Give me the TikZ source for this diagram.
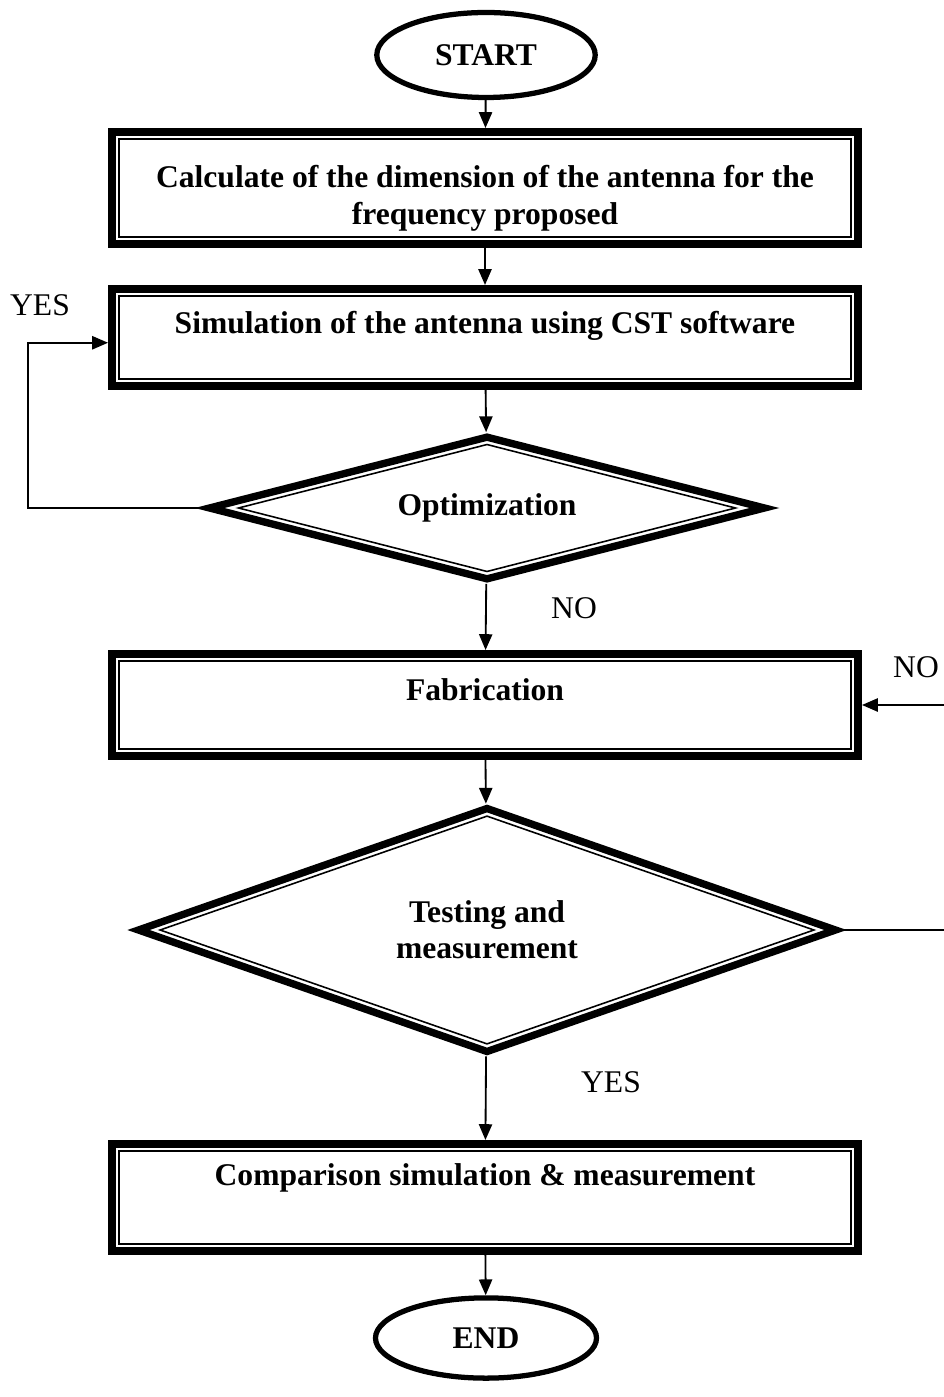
\documentclass[tikz,border=0pt]{standalone}
\usepackage{fontspec}
\setmainfont{Liberation Serif}
\usepackage{tikz}
\usetikzlibrary{arrows.meta}
\usetikzlibrary{shapes.geometric}
\tikzstyle{termnode}=[black, draw=black, line width=2pt, shape=ellipse, fill=white, inner sep=0pt, font=\fontsize{12}{13.8}\selectfont\bfseries]
\tikzstyle{procnode}=[black, draw=black, line width=3pt, shape=rectangle, fill=white, minimum width=283.5pt, align=center, font=\fontsize{12}{13.8}\selectfont\bfseries, path picture={\draw[line width=0.6pt] ([shift={(2.75pt,-2.75pt)}]path picture bounding box.north west) rectangle ([shift={(-2.75pt,2.75pt)}]path picture bounding box.south east);}]
\tikzstyle{decnode}=[black, draw=black, line width=2.8pt, shape=diamond, fill=white, inner sep=0pt, align=center, font=\fontsize{12}{13.8}\selectfont\bfseries]
\tikzstyle{labelnode}=[shape=rectangle, inner sep=0pt, font=\fontsize{12}{13.8}\selectfont]
\tikzstyle{flowarrow}=[-{Triangle[length=6pt, width=5pt]}, line width=0.7pt, color=black]
\tikzset{innerdiamond/.style 2 args={path picture={\draw[line width=0.6pt] ([yshift=-#2]path picture bounding box.north) -- ([xshift=-#1]path picture bounding box.east) -- ([yshift=#2]path picture bounding box.south) -- ([xshift=#1]path picture bounding box.west) -- cycle;}}}

\begin{document}
\begin{tikzpicture}[x=0.38pt, y=-0.38pt]
\useasboundingbox (0,0) rectangle (943,1397);

\node [termnode, minimum width=83pt, minimum height=32.3pt] (start) at (486,55) {START};
\node [procnode, minimum height=42.6pt, text height=30pt] (calc) at (485,188) {Calculate of the dimension of the antenna for the\\frequency proposed};
\node [procnode, minimum height=36.9pt, text height=9pt, text depth=11.8pt] (sim) at (485,337.5) {Simulation of the antenna using CST software};
\node [decnode, aspect=3.9, minimum width=212pt, minimum height=55pt, innerdiamond={11pt}{2.8pt}] (opt) at (487,508) {Optimization};
\node [procnode, minimum height=38.8pt, text height=9pt, text depth=12.8pt] (fab) at (485,705) {Fabrication};
\node [decnode, aspect=2.85, minimum width=266pt, minimum height=93.5pt, innerdiamond={8.2pt}{2.9pt}] (test) at (487,930) {Testing and\\measurement};
\node [procnode, minimum height=40.7pt, text height=9pt, text depth=17.8pt] (comp) at (485,1197.5) {Comparison simulation \& measurement};
\node [termnode, minimum width=84pt, minimum height=30.5pt] (end) at (486,1338) {END};

% loop corners
\coordinate (yesturn) at (28,508);
\coordinate (noturn) at (955,930);

\draw[flowarrow] (start) -- (calc);
\draw[flowarrow] (calc) -- (sim);
\draw[flowarrow] (sim) -- (opt);
\draw[flowarrow] (opt) -- (fab);
\draw[flowarrow] (fab) -- (test);
\draw[flowarrow] (test) -- (comp);
\draw[flowarrow] (comp) -- (end);
\draw[flowarrow] (opt.west) -- (yesturn) |- ([yshift=-2pt]sim.west);
\draw[flowarrow] (test.east) -- (noturn) |- (fab.east);

\node [labelnode] (yesup) at (40,305) {YES};
\node [labelnode] (nodown) at (574,608) {NO};
\node [labelnode] (noright) at (916,667) {NO};
\node [labelnode] (yesdown) at (611,1082) {YES};
\end{tikzpicture}
\end{document}
